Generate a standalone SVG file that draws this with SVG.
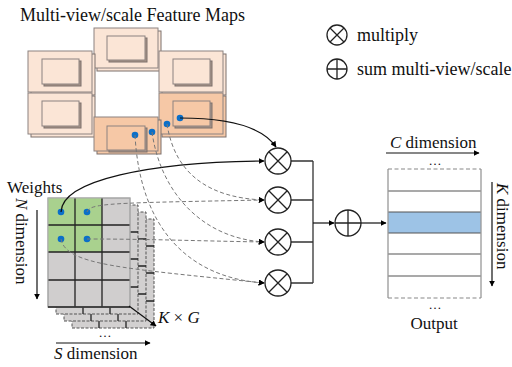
<svg xmlns="http://www.w3.org/2000/svg" width="512" height="367" viewBox="0 0 512 367">
<defs>
<marker id="ah" viewBox="0 0 10 10" refX="9" refY="5" markerWidth="6" markerHeight="6" orient="auto" markerUnits="userSpaceOnUse"><path d="M0,0 L10,5 L0,10 z" fill="#000"/></marker>
<style>
text{font-family:"Liberation Serif","Times New Roman",serif;fill:#111}
.fm{stroke:#8c8280;stroke-width:1}
.sh{stroke:#7d716c;stroke-width:1}
.ish{fill:#a89488;stroke:#7d716c;stroke-width:1}
.lt{fill:#fbe5d6}
.dk{fill:#f6c8a6}
.dot{fill:#0b6fc8}
.ly{fill:#d2d0d0;stroke:#555;stroke-width:1;stroke-dasharray:3 1.5}
.gl{stroke:#222;stroke-width:1.3}
.cell{fill:#d0cece}
.green{fill:#a9d18e}
.op{fill:#fff;stroke:#222;stroke-width:1.3}
.opl{stroke:#222;stroke-width:1.3}
.sol{fill:none;stroke:#111;stroke-width:1.2}
.dsh{fill:none;stroke:#777;stroke-width:1;stroke-dasharray:4 2.5}
.ln{fill:none;stroke:#333;stroke-width:1.3}
</style>
</defs>
<rect width="512" height="367" fill="#fff"/>

<text x="20" y="21" font-size="18">Multi-view/scale Feature Maps</text>

<g id="legend">
<circle class="op" cx="337" cy="35" r="10"/>
<path class="opl" d="M330,28 L344,42 M344,28 L330,42"/>
<text x="357" y="41" font-size="18">multiply</text>
<circle class="op" cx="337" cy="69" r="10"/>
<path class="opl" d="M327,69 L347,69 M337,59 L337,79"/>
<text x="357" y="75" font-size="18">sum multi-view/scale</text>
</g>

<g id="feature-maps">
<g id="fm-top">
<rect class="sh lt" x="97" y="31" width="64" height="40"/>
<rect class="fm lt" x="94" y="28" width="64" height="40"/>
<rect class="ish" x="109" y="38" width="38" height="24"/>
<rect class="fm lt" x="107" y="36" width="38" height="24"/>
</g>
<g id="fm-tl">
<rect class="sh lt" x="31" y="54" width="64" height="41"/>
<rect class="fm lt" x="28" y="51" width="64" height="41"/>
<rect class="ish" x="44" y="61" width="37" height="25"/>
<rect class="fm lt" x="42" y="59" width="37" height="25"/>
</g>
<g id="fm-tr">
<rect class="sh lt" x="162" y="54" width="64" height="41"/>
<rect class="fm lt" x="159" y="51" width="64" height="41"/>
<rect class="ish" x="175" y="61" width="37" height="25"/>
<rect class="fm lt" x="173" y="59" width="37" height="25"/>
</g>
<g id="fm-bl">
<rect class="sh lt" x="31" y="96" width="64" height="41"/>
<rect class="fm lt" x="28" y="93" width="64" height="41"/>
<rect class="ish" x="44" y="103" width="37" height="25"/>
<rect class="fm lt" x="42" y="101" width="37" height="25"/>
</g>
<g id="fm-br">
<rect class="sh dk" x="162" y="96" width="64" height="41"/>
<rect class="fm dk" x="159" y="93" width="64" height="41"/>
<rect class="ish" x="175" y="103" width="37" height="25"/>
<rect class="fm dk" x="173" y="101" width="37" height="25"/>
</g>
<g id="fm-bc">
<rect class="sh dk" x="97" y="120" width="64" height="34"/>
<rect class="fm dk" x="94" y="117" width="64" height="34"/>
<rect class="ish" x="109" y="128" width="38" height="24"/>
<rect class="fm dk" x="107" y="126" width="38" height="24"/>
</g>
</g>

<g id="weights">
<text x="7" y="193" font-size="17">Weights</text>
<g id="layer3">
<rect class="ly" x="72" y="219" width="82" height="109"/>
<path class="gl" d="M99,219V328 M126,219V328 M72,246H154 M72,273H154 M72,301H154"/>
</g>
<g id="layer2">
<rect class="ly" x="64" y="212" width="82" height="109"/>
<path class="gl" d="M91,212V321 M118,212V321 M64,239H146 M64,266H146 M64,294H146"/>
</g>
<g id="layer1">
<rect class="ly" x="56" y="205" width="82" height="109"/>
<path class="gl" d="M83,205V314 M110,205V314 M56,232H138 M56,259H138 M56,287H138"/>
</g>
<g id="grid">
<rect class="cell" x="48" y="198" width="82" height="109" stroke="#999" stroke-width="1"/>
<rect class="green" x="48" y="198" width="54" height="54"/>
<path class="gl" d="M75,198V307 M102,198V307 M48,225H130 M48,252H130 M48,280H130"/>
<rect x="48" y="198" width="82" height="109" fill="none" stroke="#aaa" stroke-width="1"/>
<path class="gl" d="M48,307H130"/>
</g>
<circle class="dot" cx="61" cy="212" r="3.3"/>
<circle class="dot" cx="87" cy="212" r="3.3"/>
<circle class="dot" cx="61" cy="239" r="3.3"/>
<circle class="dot" cx="87" cy="239" r="3.3"/>
<path class="sol" d="M129,306 L156,326" marker-end="url(#ah)"/>
<text x="158" y="323" font-size="17"><tspan font-style="italic">K</tspan> × <tspan font-style="italic">G</tspan></text>
<text x="105" y="337" font-size="13" text-anchor="middle">…</text>
<path class="sol" d="M56,343 L150,343" marker-end="url(#ah)"/>
<text x="54" y="359" font-size="17"><tspan font-style="italic">S</tspan> dimension</text>
<text transform="translate(16,198) rotate(90)" font-size="17"><tspan font-style="italic">N</tspan> dimension</text>
<path class="sol" d="M37,210 L37,299" marker-end="url(#ah)"/>
</g>

<g id="feature-dots">
<circle class="dot" cx="135" cy="135" r="3.3"/>
<circle class="dot" cx="152" cy="132" r="3.3"/>
<circle class="dot" cx="167" cy="124" r="3.3"/>
<circle class="dot" cx="180" cy="118" r="3.3"/>
</g>

<g id="connectors">
<path class="sol" d="M180,118 C228,118 262,126 276,147" marker-end="url(#ah)"/>
<path class="sol" d="M61,212 C62,180 150,162 264,161" marker-end="url(#ah)"/>
<path class="dsh" d="M167,124 C175,175 210,198 264,200" marker-end="url(#ah)"/>
<path class="dsh" d="M152,132 C160,190 200,238 264,242" marker-end="url(#ah)"/>
<path class="dsh" d="M135,135 C140,230 190,278 264,283" marker-end="url(#ah)"/>
<path class="dsh" d="M87,212 C90,203 110,203 264,200" marker-end="url(#ah)"/>
<path class="dsh" d="M87,239 C150,239 200,241 264,242" marker-end="url(#ah)"/>
<path class="dsh" d="M61,239 C66,265 120,268 264,283" marker-end="url(#ah)"/>
<path class="ln" d="M291,161H313 M291,200H313 M291,242H313 M291,283H313 M313,161V283"/>
<path class="sol" d="M313,223 L334,223" marker-end="url(#ah)"/>
<path class="sol" d="M361,223 L386,223" marker-end="url(#ah)"/>
</g>

<g id="multiply-ops">
<g id="mul1"><circle class="op" cx="278" cy="161" r="13"/><path class="opl" d="M268.8,151.8L287.2,170.2M287.2,151.8L268.8,170.2"/></g>
<g id="mul2"><circle class="op" cx="278" cy="200" r="13"/><path class="opl" d="M268.8,190.8L287.2,209.2M287.2,190.8L268.8,209.2"/></g>
<g id="mul3"><circle class="op" cx="278" cy="242" r="13"/><path class="opl" d="M268.8,232.8L287.2,251.2M287.2,232.8L268.8,251.2"/></g>
<g id="mul4"><circle class="op" cx="278" cy="283" r="13"/><path class="opl" d="M268.8,273.8L287.2,292.2M287.2,273.8L268.8,292.2"/></g>
</g>

<g id="sum-op">
<circle class="op" cx="348" cy="223" r="13"/>
<path class="opl" d="M335,223H361 M348,210V236"/>
</g>

<g id="output">
<text x="390" y="148" font-size="17"><tspan font-style="italic">C</tspan> dimension</text>
<path class="sol" d="M386,153 L479,153" marker-end="url(#ah)"/>
<text x="435" y="165" font-size="13" text-anchor="middle">…</text>
<rect x="388" y="212" width="93" height="21" fill="#9dc3e6"/>
<path d="M388,191H481 M388,212H481 M388,233H481 M388,254H481 M388,276H481" stroke="#555" stroke-width="1.2" fill="none"/>
<path d="M388,169V298 M481,169V298" stroke="#999" stroke-width="1.3" fill="none"/>
<path d="M388,169H481 M388,298H481" stroke="#888" stroke-width="1.2" stroke-dasharray="4 2.5" fill="none"/>
<text x="435" y="309" font-size="13" text-anchor="middle">…</text>
<text x="434" y="329" font-size="17" text-anchor="middle">Output</text>
<text transform="translate(497,183) rotate(90)" font-size="17"><tspan font-style="italic">K</tspan> dimension</text>
<path class="sol" d="M492,182 L492,286" marker-end="url(#ah)"/>
</g>
</svg>
